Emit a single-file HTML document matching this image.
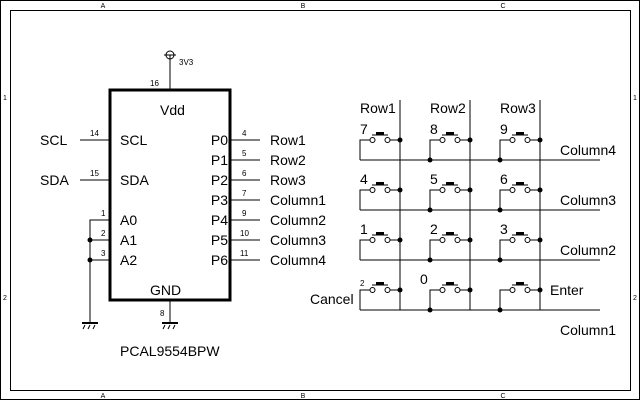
<!DOCTYPE html>
<html><head><meta charset="utf-8"><style>
html,body{margin:0;padding:0;background:#fff;}
svg{display:block;font-family:"Liberation Sans",sans-serif;}
.l{font-size:14px;fill:#000;}
.n{font-size:8px;fill:#000;}
.f{font-size:7px;fill:#000;}
</style></head><body>
<svg width="640" height="400" viewBox="0 0 640 400">
<rect x="0.5" y="0.5" width="639" height="399" fill="#fff" stroke="#000"/>
<rect x="10.5" y="10.5" width="620" height="380" fill="none" stroke="#000"/>
<g class="f" text-anchor="middle">
<text x="103" y="8">A</text><text x="303" y="8">B</text><text x="503" y="8">C</text>
<text x="103" y="398">A</text><text x="303" y="398">B</text><text x="503" y="398">C</text>
<text x="5" y="100">1</text><text x="5" y="300">2</text>
<text x="635" y="100">1</text><text x="635" y="300">2</text>
</g>
<g stroke="#000" fill="none">
<rect x="110" y="90" width="120" height="210" stroke-width="3"/>
<line x1="170" y1="55" x2="170" y2="90"/>
<circle cx="170" cy="55" r="4"/>
<line x1="164" y1="55" x2="176" y2="55"/>
<line x1="80" y1="140" x2="110" y2="140"/>
<line x1="80" y1="180" x2="110" y2="180"/>
<polyline points="110,220 90,220 90,323"/>
<line x1="90" y1="240" x2="110" y2="240"/>
<line x1="90" y1="260" x2="110" y2="260"/>
<line x1="82" y1="323" x2="98" y2="323" stroke-width="2"/>
<line x1="170" y1="300" x2="170" y2="323"/>
<line x1="162" y1="323" x2="178" y2="323" stroke-width="2"/>
<path d="M85,325 l-2,4 M90,325 l-2,4 M95,325 l-2,4 M165,325 l-2,4 M170,325 l-2,4 M175,325 l-2,4"/>
<line x1="230" y1="140" x2="260" y2="140"/>
<line x1="230" y1="160" x2="260" y2="160"/>
<line x1="230" y1="180" x2="260" y2="180"/>
<line x1="230" y1="200" x2="260" y2="200"/>
<line x1="230" y1="220" x2="260" y2="220"/>
<line x1="230" y1="240" x2="260" y2="240"/>
<line x1="230" y1="260" x2="260" y2="260"/>
<line x1="400" y1="100" x2="400" y2="310"/>
<line x1="470" y1="100" x2="470" y2="310"/>
<line x1="540" y1="100" x2="540" y2="310"/>
<line x1="360" y1="160" x2="600" y2="160"/>
<line x1="360" y1="210" x2="600" y2="210"/>
<line x1="360" y1="260" x2="600" y2="260"/>
<line x1="360" y1="310" x2="600" y2="310"/>
</g>
<g fill="#000">
<circle cx="90" cy="240" r="2.5"/><circle cx="90" cy="260" r="2.5"/>
</g>
<defs>
<g id="sw">
<polyline points="0,20 0,0 10,0" fill="none" stroke="#000"/>
<circle cx="12.5" cy="0" r="2.5" fill="none" stroke="#000"/>
<circle cx="27.5" cy="0" r="2.5" fill="none" stroke="#000"/>
<line x1="30" y1="0" x2="40" y2="0" stroke="#000"/>
<line x1="12" y1="-5" x2="28" y2="-5" stroke="#000"/>
<rect x="16" y="-8" width="8" height="3" fill="#000"/>
<circle cx="40" cy="0" r="2.5" fill="#000"/>
</g>
</defs>
<use href="#sw" x="360" y="140"/><use href="#sw" x="430" y="140"/><use href="#sw" x="500" y="140"/>
<use href="#sw" x="360" y="190"/><use href="#sw" x="430" y="190"/><use href="#sw" x="500" y="190"/>
<use href="#sw" x="360" y="240"/><use href="#sw" x="430" y="240"/><use href="#sw" x="500" y="240"/>
<use href="#sw" x="360" y="290"/><use href="#sw" x="430" y="290"/><use href="#sw" x="500" y="290"/>
<g fill="#000">
<circle cx="430" cy="160" r="2.5"/><circle cx="500" cy="160" r="2.5"/>
<circle cx="430" cy="210" r="2.5"/><circle cx="500" cy="210" r="2.5"/>
<circle cx="430" cy="260" r="2.5"/><circle cx="500" cy="260" r="2.5"/>
<circle cx="430" cy="310" r="2.5"/><circle cx="500" cy="310" r="2.5"/>
</g>
<g class="l">
<text x="160" y="115">Vdd</text>
<text x="120" y="145">SCL</text>
<text x="120" y="185">SDA</text>
<text x="120" y="225">A0</text>
<text x="120" y="245">A1</text>
<text x="120" y="265">A2</text>
<text x="150" y="295">GND</text>
<text x="228" y="145" text-anchor="end">P0</text>
<text x="228" y="165" text-anchor="end">P1</text>
<text x="228" y="185" text-anchor="end">P2</text>
<text x="228" y="205" text-anchor="end">P3</text>
<text x="228" y="225" text-anchor="end">P4</text>
<text x="228" y="245" text-anchor="end">P5</text>
<text x="228" y="265" text-anchor="end">P6</text>
<text x="40" y="145">SCL</text>
<text x="40" y="185">SDA</text>
<text x="270" y="145">Row1</text>
<text x="270" y="165">Row2</text>
<text x="270" y="185">Row3</text>
<text x="270" y="205">Column1</text>
<text x="270" y="225">Column2</text>
<text x="270" y="245">Column3</text>
<text x="270" y="265">Column4</text>
<text x="120" y="356">PCAL9554BPW</text>
<text x="360" y="113">Row1</text>
<text x="430" y="113">Row2</text>
<text x="500" y="113">Row3</text>
<text x="360" y="134">7</text><text x="430" y="134">8</text><text x="500" y="134">9</text>
<text x="360" y="184">4</text><text x="430" y="184">5</text><text x="500" y="184">6</text>
<text x="360" y="234">1</text><text x="430" y="234">2</text><text x="500" y="234">3</text>
<text x="420" y="284">0</text>
<text x="550" y="295">Enter</text>
<text x="310" y="304">Cancel</text>
<text x="560" y="155">Column4</text>
<text x="560" y="205">Column3</text>
<text x="560" y="255">Column2</text>
<text x="560" y="335">Column1</text>
</g>
<g class="n">
<text x="150" y="86">16</text>
<text x="90" y="136">14</text>
<text x="90" y="176">15</text>
<text x="101" y="216">1</text>
<text x="101" y="236">2</text>
<text x="101" y="256">3</text>
<text x="160" y="316">8</text>
<text x="242" y="136">4</text>
<text x="242" y="156">5</text>
<text x="242" y="176">6</text>
<text x="242" y="196">7</text>
<text x="242" y="216">9</text>
<text x="240" y="236">10</text>
<text x="240" y="256">11</text>
<text x="360" y="286">2</text>
<text x="179" y="65">3V3</text>
</g>
</svg>
</body></html>
